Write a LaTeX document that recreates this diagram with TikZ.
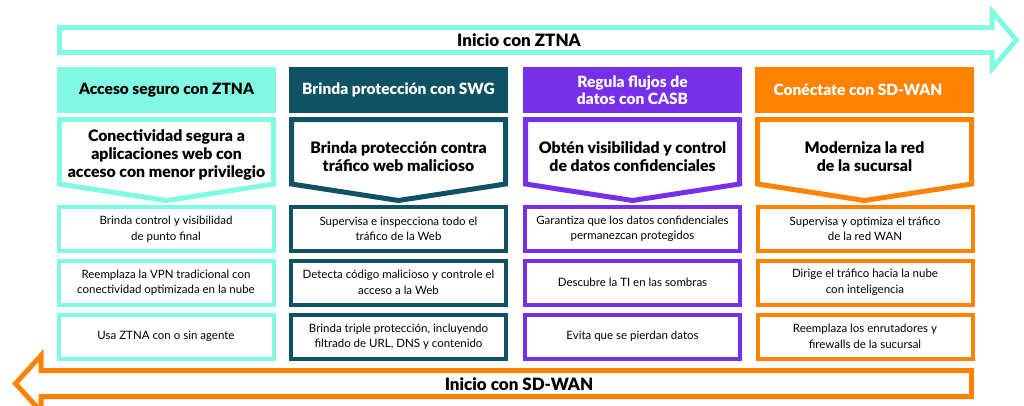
\documentclass[tikz,border=0pt]{standalone}
\usepackage{fontspec}
\setmainfont{Lato}[BoldFont={Lato Black}]
\definecolor{mint}{HTML}{82F9E3}
\definecolor{dteal}{HTML}{0E5264}
\definecolor{hpurple}{HTML}{7630EA}
\definecolor{horange}{HTML}{FF8300}
\begin{document}
\begin{tikzpicture}[x=1pt,y=-1pt,
  hdr/.style={fill=#1, minimum width=219pt, minimum height=46pt, inner sep=0pt,
    font=\bfseries\fontsize{15.5}{17.5}\selectfont, align=center},
  item/.style={draw=#1, line width=4pt, fill=white, minimum width=215pt, minimum height=44pt,
    inner sep=0pt, font=\fontsize{11.5}{15.5}\selectfont, align=center},
  penta/.style={draw=#1, line width=5pt, fill=white, line join=miter},
  ptext/.style={font=\bfseries\fontsize{15.8}{17.8}\selectfont, align=center, inner sep=0pt},
  bigarrow/.style={draw=#1, line width=5pt, fill=white, line join=miter, miter limit=10},
  atext/.style={font=\bfseries\fontsize{17}{19}\selectfont, inner sep=0pt}
]
\useasboundingbox (0,0) rectangle (1024,405);
\fill[white] (0,0) rectangle (1024,405);

% top arrow
\draw[bigarrow=mint] (59.5,27.5) -- (992,27.5) -- (992,11.5) -- (1016.5,40) -- (992,68.5)
  -- (992,52.5) -- (59.5,52.5) -- cycle;
\node[atext] (ztna) at (519,40.5) {Inicio con ZTNA};

% bottom arrow
\draw[bigarrow=horange] (971.5,370.5) -- (41,370.5) -- (41,355.5) -- (15.5,383.5) -- (41,411.5)
  -- (41,396.5) -- (971.5,396.5) -- cycle;
\node[atext] (sdwan) at (519,384) {Inicio con SD-WAN};

% column 1
\node[hdr=mint, text=black] (h1) at (166.5,90) {Acceso seguro con ZTNA};
\draw[penta=mint] (59.5,119.5) -- (273.5,119.5) -- (273.5,184) -- (166.5,200.5) -- (59.5,184) -- cycle;
\node[ptext] (p1) at (166.5,155) {Conectividad segura a\\aplicaciones web con\\acceso con menor privilegio};
\node[item=mint] (a1) at (166,229) {Brinda control y visibilidad\\de punto final};
\node[item=mint] (a2) at (166,282.5) {Reemplaza la VPN tradicional con\\conectividad optimizada en la nube};
\node[item=mint] (a3) at (166,336.5) {Usa ZTNA con o sin agente};

% column 2
\node[hdr=dteal, text=white] (h2) at (398.5,90) {Brinda protección con SWG};
\draw[penta=dteal] (291.5,119.5) -- (505.5,119.5) -- (505.5,184) -- (398.5,200.5) -- (291.5,184) -- cycle;
\node[ptext] (p2) at (398.5,157) {Brinda protección contra\\tráfico web malicioso};
\node[item=dteal] (b1) at (398.5,229) {Supervisa e inspecciona todo el\\tráfico de la Web};
\node[item=dteal] (b2) at (398.5,282.5) {Detecta código malicioso y controle el\\acceso a la Web};
\node[item=dteal] (b3) at (398.5,336.5) {Brinda triple protección, incluyendo\\filtrado de URL, DNS y contenido};

% column 3
\node[hdr=hpurple, text=white] (h3) at (632.5,90) {Regula flujos de\\datos con CASB};
\draw[penta=hpurple] (525.5,119.5) -- (739.5,119.5) -- (739.5,184) -- (632.5,200.5) -- (525.5,184) -- cycle;
\node[ptext] (p3) at (632.5,157) {Obtén visibilidad y control\\de datos confidenciales};
\node[item=hpurple] (c1) at (632.5,229) {Garantiza que los datos confidenciales\\permanezcan protegidos};
\node[item=hpurple] (c2) at (632.5,282.5) {Descubre la TI en las sombras};
\node[item=hpurple] (c3) at (632.5,336.5) {Evita que se pierdan datos};

% column 4
\node[hdr=horange, text=white] (h4) at (864.5,90) {};
\node[font=\bfseries\fontsize{15.5}{17.5}\selectfont, text=white, inner sep=0pt] (h4t) at (858,90) {Conéctate con SD-WAN};
\draw[penta=horange] (757.5,119.5) -- (971.5,119.5) -- (971.5,184) -- (864.5,200.5) -- (757.5,184) -- cycle;
\node[ptext] (p4) at (864.5,157) {Moderniza la red\\de la sucursal};
\node[item=horange] (d1) at (865,229) {Supervisa y optimiza el tráfico\\de la red WAN};
\node[item=horange] (d2) at (865,282.5) {Dirige el tráfico hacia la nube\\con inteligencia};
\node[item=horange] (d3) at (865,336.5) {Reemplaza los enrutadores y\\firewalls de la sucursal};
\end{tikzpicture}
\end{document}
